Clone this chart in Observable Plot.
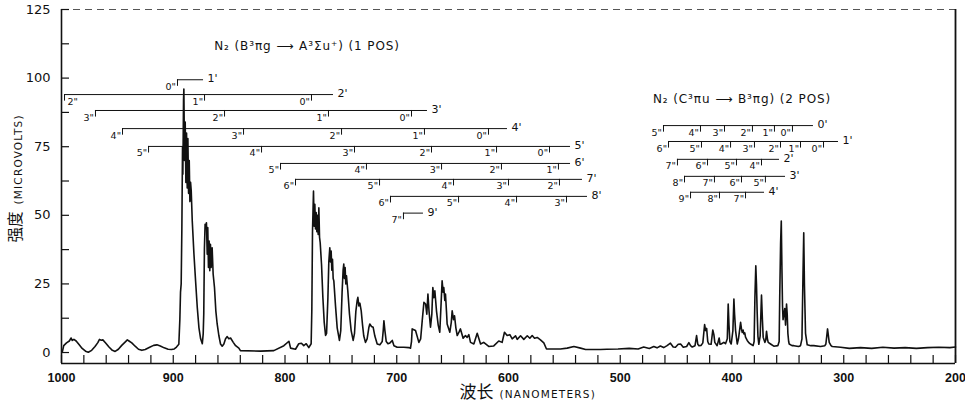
<!DOCTYPE html>
<html><head><meta charset="utf-8">
<script src="https://cdn.jsdelivr.net/npm/d3@7"></script>
<script src="https://cdn.jsdelivr.net/npm/@observablehq/plot@0.6"></script>
<style>body{margin:0;background:#fff;}</style>
</head><body><div id="chart"></div>
<script>
// spectrum: [wavelength (nm), intensity (microvolts)]
const spectrum = [
[999.2,0.3],[998,2.5],[995.5,3.5],[993,4.2],[991.4,5.3],[990.4,4.4],[988.9,4.8],[986.9,4.2],[984.5,3],[981.5,1.5],[978.5,0.5],[976,0.1],[973,0.8],[970,2.2],[967.5,3.6],[966,4.8],[964.5,4.5],[963,4.6],[960.5,3.5],[957.5,2],[954.5,0.8],[952,0.4],[949.1,1.2],[946.1,2.6],[943.1,3.8],[941.1,4.6],[939.6,4.2],[937.1,3.5],[934.1,2.3],[931.1,1.2],[928.1,0.8],[925.1,1.1],[921.1,1.9],[917.6,2.6],[914.6,2.8],[911.6,2.4],[908.1,1.7],[904.6,1.2],[901.6,1.1],[899.1,1.3],[897.1,2],
[895,3],[894.1,12],[893.5,22],[892.9,25],[892.3,45],[891.7,75],[891.4,65],[890.8,92],[890.5,96],[889.9,70],[889.3,84],[888.7,62],[888.1,80],[887.5,60],[886.9,78],[886.3,58],[885.7,70],[885.1,55],[884.5,62],[883.9,58.8],[883,48],[881.5,36],[880,26],[878.5,16.4],[877,9],[875.5,5],[874,3.2],
[873.2,6.8],[872.7,14],[872.1,38.2],[871.5,46.7],[870.9,45.5],[870.3,47.3],[869.6,35.8],[869.1,45.5],[868.5,31],[867.9,40.6],[867.3,29.8],[866.7,39.4],[866.1,31],[865.2,38.2],[864.3,28.6],[863.1,23.7],[861.9,15.2],[860.7,10.4],[859.2,6.2],[857.7,3.1],[856.2,2.3],[854.7,3.1],[853.2,5],[851.7,5.8],[850.3,5],[848.7,5.3],[846.3,3.7],[844.2,2.5],[841.3,1.6],
[839.9,0.7],[821.9,0.5],[810,0.7],[801,2.5],[796.5,4.1],[795,1.6],[790.6,1.2],[787.7,3.2],[785.3,3.4],[783.2,2.5],[781,3.2],[778.7,1.8],[776.6,3.2],[776,15.3],[775.4,43.8],[774.5,58.8],[773.9,46],[773.3,54],[772.7,45],[772.1,51],[771.5,44],[770.9,50],[770.3,43],[769.7,52.7],[769.1,42],[768.5,40],[767.3,32],[766.1,20],[764.9,11],[763.7,6.2],[762.8,7],[761.6,20],[760.8,33],[759.9,38.2],[759.3,33],[758.7,37],[758.1,30],[757.5,34],[756.9,27],[756.3,26.1],[754.8,17],[753.3,9],[751.3,4.4],[750.1,8],[748.9,22],[748,30],[747.4,32.2],[746.8,27],[746.2,31],[745.6,25],[745,28],[743.8,22.5],[742.3,14],[740.8,8],[739,4.4],[737.8,7],[736.6,15],[735.4,19],[734.8,20.1],[733.9,17],[733,18],[731.8,15.2],[730.6,10],[729.5,6],[728,3.7],[726.5,5],[725,9],[724.1,10.4],[722.6,9.5],[721.1,9.2],[719.6,6],[717.5,3.1],[715.1,2.8],[713,4],[712.1,8],[711.5,11.6],[710.6,8],[709.4,4],[707.9,3.2],[706.1,3.5],[704,4.4],[702.5,2.5],[699.6,1.9],[693.7,1.9],[689.2,1.8],
[687.7,1.6],[686.8,4],[686.2,8.6],[683.2,8],[680.2,3.7],[678.6,5],[677.2,11.6],[675.7,18.3],[674.2,17.7],[673.1,14],[672.1,21.3],[671.1,15],[669.8,9.2],[668.6,14],[667.7,23.7],[666.8,20],[665.9,22.5],[664.4,15],[662.9,10],[661.5,7.4],[660.3,18],[659.4,26.1],[658.5,22],[657.9,23.7],[657,19],[656.4,21.3],[655.5,15],[654.9,10.4],[652.5,7.4],[651.2,11],[650.4,15.2],[649.2,12],[648.3,13.4],[647.1,9],[645.9,6.2],[644.2,7.5],[643,8.6],[640.6,5.2],[638.5,6.2],[637,5.5],[635.5,6.5],[634,3.7],[631,3.1],[628,7],[625,3.1],[622.2,3.7],[617.7,2.2],[613.2,2.4],[608.7,4.2],[605.7,3.7],[603.6,7.4],[601.2,6.2],[598.8,6.5],[596.7,5],[593.7,6.1],[592.2,4.8],[589.2,6.1],[586.3,4.8],[583.2,6.1],[580.9,5.2],[578.8,6.2],[576.7,5.2],[574.3,5.5],[571.4,4.6],[568.4,3.5],[566,1.3],[562.4,1.3],[553.5,1.3],[547.5,1.6],[541.5,2.2],[535.5,1.6],[531,1.1],[517.6,1.1],
[512,1.2],[502,1.3],[492,1.5],[484,1.3],[479,2],[474,1.5],[470,2.2],[467.1,1.7],[464.1,2.4],[461.1,1.8],[458.1,2.5],[455.1,3.4],[452.6,2],[450.6,1.9],[448.1,3],
[446,3.1],[443.6,1.9],[440.6,2.2],[438.6,3.6],[437.1,2.5],[435.6,2],[433.1,2.5],[431.7,6.2],[430.6,3],[429.6,2.5],[427.6,2.6],[426.1,3.5],[424.5,10.2],[423.6,8],[422.7,8.8],[421.7,4],[420.8,3.1],[418.7,3],[417.2,8.2],[416.2,6.5],[415.4,3.7],[413.3,2.5],[411.5,5.3],[410.7,3],[409.7,3.1],[407.3,3.7],[405.8,3.2],[404.2,5],[403.4,17.7],[402.7,10],[401.9,4],[400.7,3.1],[399.2,8],[398.3,19.5],[397.7,14],[396.8,8],[395.3,3.1],[394.2,5],[392.3,11],[391.5,8.5],[390.8,7.3],[390.1,8.2],[389.4,6.8],[388.6,7.2],[387.9,5.6],[386.4,4.4],[384.7,3.5],[383.4,3.1],[381.1,2.5],[380.2,4],[379.5,20],[378.7,31.6],[378.1,25],[377.5,15],[376.8,6],[376,3],[374.8,6],[373.6,20.9],[372.8,12],[372.1,5.6],[370.6,3.7],[369.8,4.5],[369.1,7.7],[368.3,5],[367.6,3.7],[365.5,3.1],[362.6,2.3],[359,2.5],[357.8,4],[357.3,20],[356.5,40],[355.9,47.9],[355.3,30],[354.8,17],[354.3,12],[353.6,14],[352.8,16],[352.1,10],[351.2,17.7],[350.6,14],[350,7],[349.3,4],[348.8,3.1],[346.3,2.5],[344.6,2.5],[340.4,2.2],[338.7,2.5],[337.4,5],[336.4,30],[335.8,43.6],[335.2,25],[334.2,7],[332.7,2.8],[329.4,2.5],[326.8,2.5],[320.8,2.2],[316.9,2.5],[316,3.1],[315.2,6],[314.5,8.6],[313.7,6],[313,3.7],[311.4,2.5],[310.3,2.2],[302.8,1.9],
[295,1.5],[285,1.8],[275,1.5],[265,1.9],[255,1.6],[245,1.8],[235,1.5],[225,1.8],[215,1.9],[205,1.8],[200,2]
];

const yTickLabels = [0, 25, 50, 75, 100, 125];
const yTickMarks = [0, 12.5, 25, 37.5, 50, 62.5, 75, 87.5, 100, 112.5, 125];
const xTickLabels = [1000, 900, 800, 700, 600, 500, 400, 300, 200];
const xTickMarks = d3.range(200, 1001, 20);

// First positive system progressions (upper v', line level, start and end wavelength)
const pos1Rows = [
  {upper: "1'", level: 99.4, start: 896.2, end: 872.9},
  {upper: "2'", level: 94.0, start: 997.3, end: 756.6},
  {upper: "3'", level: 88.2, start: 969.6, end: 672.5},
  {upper: "4'", level: 81.6, start: 945.4, end: 600.9},
  {upper: "5'", level: 75.1, start: 922.1, end: 544.5},
  {upper: "6'", level: 68.9, start: 804.0, end: 544.5},
  {upper: "7'", level: 63.1, start: 790.6, end: 533.8},
  {upper: "8'", level: 56.9, start: 705.6, end: 529.3},
  {upper: "9'", level: 50.8, start: 694.0, end: 676.1}
];
// band heads: [upper v', lower v", wavelength]
const pos1Heads = [
  ["1'", '0"', 896.2],
  ["2'", '2"', 997.3], ["2'", '1"', 872.0], ["2'", '0"', 776.3],
  ["3'", '3"', 969.6], ["3'", '2"', 854.1], ["3'", '1"', 761.1], ["3'", '0"', 686.8],
  ["4'", '4"', 945.4], ["4'", '3"', 837.1], ["4'", '2"', 749.4], ["4'", '1"', 675.2], ["4'", '0"', 617.9],
  ["5'", '5"', 922.1], ["5'", '4"', 821.0], ["5'", '3"', 737.8], ["5'", '2"', 668.9], ["5'", '1"', 610.7], ["5'", '0"', 563.3],
  ["6'", '5"', 804.0], ["6'", '4"', 727.1], ["6'", '3"', 659.9], ["6'", '2"', 606.3], ["6'", '1"', 555.3],
  ["7'", '6"', 790.6], ["7'", '5"', 715.4], ["7'", '4"', 649.2], ["7'", '3"', 600.0], ["7'", '2"', 554.4],
  ["8'", '6"', 705.6], ["8'", '5"', 644.7], ["8'", '4"', 592.8], ["8'", '3"', 548.1],
  ["9'", '7"', 694.0]
];
// Second positive system progressions
const pos2Rows = [
  {upper: "0'", level: 82.7, start: 461.3, end: 327.1},
  {upper: "1'", level: 76.9, start: 456.8, end: 304.7},
  {upper: "2'", level: 70.4, start: 448.8, end: 357.5},
  {upper: "3'", level: 64.2, start: 442.5, end: 352.1},
  {upper: "4'", level: 58.4, start: 437.1, end: 370.9}
];
const pos2Heads = [
  ["0'", '5"', 461.3], ["0'", '4"', 428.2], ["0'", '3"', 406.7], ["0'", '2"', 381.7], ["0'", '1"', 362.0], ["0'", '0"', 345.9],
  ["1'", '6"', 456.8], ["1'", '5"', 427.3], ["1'", '4"', 401.3], ["1'", '3"', 379.9], ["1'", '2"', 356.6], ["1'", '1"', 338.7], ["1'", '0"', 318.1],
  ["2'", '7"', 448.8], ["2'", '6"', 421.9], ["2'", '5"', 396.0], ["2'", '4"', 373.6],
  ["3'", '8"', 442.5], ["3'", '7"', 415.7], ["3'", '6"', 391.5], ["3'", '5"', 370.1],
  ["4'", '9"', 437.1], ["4'", '8"', 411.2], ["4'", '7"', 387.9]
];
const bandTitles = [
  {text: "N\u2082 (B\u00b3\u03c0g \u27f6 A\u00b3\u03a3u\u207a) (1 POS)", nm: 780.3, value: 111.8},
  {text: "N\u2082 (C\u00b3\u03c0u \u27f6 B\u00b3\u03c0g) (2 POS)", nm: 391, value: 92.2}
];
const yTitleZh = "强度", yTitleEn = "(MICROVOLTS)";
const xTitleZh = "波长", xTitleEn = "(NANOMETERS)";

function joinHeads(rows, heads) {
  const lv = new Map(rows.map(r => [r.upper, r.level]));
  return heads.map(([u, l, nm]) => ({upper: u, lower: l, nm, level: lv.get(u)}));
}
const heads = [...joinHeads(pos1Rows, pos1Heads), ...joinHeads(pos2Rows, pos2Heads)];
const rows = [...pos1Rows, ...pos2Rows];
const tickDrop = 2.4;
const ink = "#111";

const plot = Plot.plot({
  width: 965, height: 405,
  marginLeft: 61, marginRight: 10, marginTop: 9, marginBottom: 42,
  style: {fontFamily: "DejaVu Sans, sans-serif", color: ink, background: "#fff"},
  x: {domain: [1000, 200], axis: null},
  y: {domain: [-4, 125], axis: null},
  marks: [
    Plot.ruleY([125], {stroke: "#555", strokeWidth: 1, strokeDasharray: "7,5"}),
    Plot.ruleX([1000], {stroke: ink, strokeWidth: 1.6}),
    Plot.ruleX([200], {stroke: ink, strokeWidth: 1.8}),
    Plot.ruleY([-4], {stroke: ink, strokeWidth: 1.6}),
    Plot.axisY(yTickMarks, {tickSize: 8, dx: 8, fill: "none", label: null, strokeWidth: 1.2}),
    Plot.axisY(yTickLabels, {tickSize: 0, tickPadding: 11, label: null, fontSize: 13, tickFormat: d => String(d)}),
    Plot.axisX(xTickMarks, {tickSize: 8, dy: -8, fill: "none", label: null, strokeWidth: 1.2}),
    Plot.axisX(xTickLabels, {tickSize: 0, tickPadding: 10, label: null, fontSize: 12.5, fontFamily: "Liberation Sans, sans-serif", fontWeight: "bold", tickFormat: d => String(d)}),
    Plot.line(spectrum, {x: d => d[0], y: d => d[1], stroke: ink, strokeWidth: 1.6, strokeLinejoin: "round"}),
    // progressions
    Plot.ruleY(rows, {y: "level", x1: "start", x2: "end", stroke: ink, strokeWidth: 1}),
    Plot.ruleX(heads, {x: "nm", y1: "level", y2: d => d.level - tickDrop, stroke: ink, strokeWidth: 1}),
    Plot.text(heads.filter(d => d.nm < 990), {x: "nm", y: "level", text: "lower", textAnchor: "end", dx: -1.5, dy: 7, fontSize: 9.5, fill: ink}),
    Plot.text(heads.filter(d => d.nm >= 990), {x: "nm", y: "level", text: "lower", textAnchor: "start", dx: 3, dy: 7, fontSize: 9.5, fill: ink}),
    Plot.text(rows, {x: "end", y: "level", text: "upper", textAnchor: "start", dx: 4, dy: -1, fontSize: 11, fill: ink}),
    Plot.text(bandTitles, {x: "nm", y: "value", text: "text", fontSize: 12, fill: ink}),
    // axis titles
    Plot.text([yTitleZh], {text: d => d, frameAnchor: "left", rotate: -90, textAnchor: "end", dx: -45, dy: 25, fontSize: 15.5, fontFamily: "Noto Sans CJK SC", fill: ink}),
    Plot.text([yTitleEn], {text: d => d, frameAnchor: "left", rotate: -90, textAnchor: "start", dx: -43, dy: 18, fontSize: 10.5, fill: ink}),
    Plot.text([xTitleZh], {text: d => d, frameAnchor: "bottom", textAnchor: "end", dx: -15, dy: 34, fontSize: 17, fontFamily: "Noto Sans CJK SC", fill: ink}),
    Plot.text([xTitleEn], {text: d => d, frameAnchor: "bottom", textAnchor: "start", dx: -9, dy: 34, fontSize: 10.5, fill: ink})
  ]
});
d3.select(plot).selectAll("text").filter(function() { return /^\((MICRO|NANO)/.test(this.textContent); }).attr("letter-spacing", "1.2");
d3.select(plot).selectAll("text").filter(function() { return /POS\)$/.test(this.textContent); }).attr("letter-spacing", "0.9");
document.getElementById("chart").appendChild(plot);
</script>
</body></html>
